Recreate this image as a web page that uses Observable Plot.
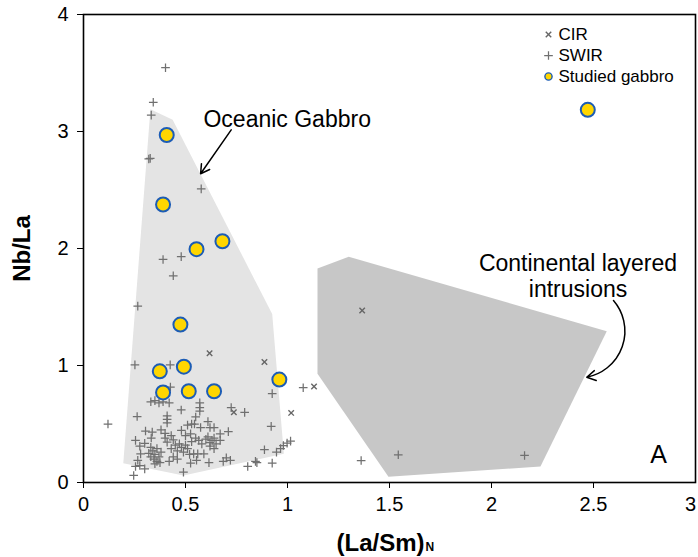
<!DOCTYPE html>
<html><head><meta charset="utf-8">
<script src="https://cdn.jsdelivr.net/npm/d3@7"></script>
<script src="https://cdn.jsdelivr.net/npm/@observablehq/plot@0.6"></script>
<style>body{margin:0;background:#fff}</style>
</head><body><div id="chart"></div>
<script>
const xTicks = [0, 0.5, 1, 1.5, 2, 2.5, 3];
const yTicks = [0, 1, 2, 3, 4];

// Studied gabbro [ (La/Sm)N, Nb/La ]
const gabbro = [
  [0.408, 2.97], [0.39, 2.376], [0.554, 1.994], [0.681, 2.062], [0.475, 1.35],
  [0.374, 0.95], [0.492, 0.99], [0.39, 0.77], [0.516, 0.78], [0.64, 0.78],
  [0.96, 0.88], [2.472, 3.185]
];

// CIR samples
const cir = [
  [0.618, 1.105], [0.887, 1.03], [0.737, 0.60], [1.018, 0.595], [1.13, 0.82], [1.366, 1.47]
];

// SWIR samples
const swir = [
  [0.402, 3.545], [0.342, 3.25], [0.332, 3.14], [0.32, 2.765], [0.327, 2.77], [0.577, 2.51],
  [0.39, 1.906], [0.479, 1.93], [0.44, 1.767], [0.266, 1.507],
  [0.252, 1.005], [0.425, 1.005], [0.426, 0.815], [0.925, 0.76], [1.077, 0.81],
  [0.12, 0.50], [0.263, 0.564], [0.33, 0.69], [0.35, 0.70], [0.37, 0.68], [0.39, 0.69], [0.42, 0.68],
  [0.479, 0.62], [0.57, 0.68], [0.57, 0.64], [0.57, 0.61], [0.724, 0.64], [0.79, 0.60], [0.92, 0.48],
  [0.41, 0.57], [0.41, 0.54], [0.41, 0.51], [0.55, 0.56], [0.61, 0.52], [0.544, 0.50], [0.574, 0.47],
  [0.62, 0.47], [0.64, 0.47], [0.67, 0.415], [0.71, 0.435],
  [0.304, 0.44], [0.337, 0.43], [0.332, 0.38], [0.38, 0.45], [0.40, 0.42], [0.43, 0.40], [0.40, 0.38],
  [0.44, 0.365], [0.41, 0.345], [0.48, 0.445], [0.51, 0.49], [0.53, 0.50], [0.50, 0.40], [0.525, 0.415],
  [0.53, 0.35], [0.55, 0.38], [0.565, 0.36], [0.58, 0.33], [0.60, 0.37], [0.61, 0.39], [0.62, 0.34],
  [0.63, 0.36], [0.64, 0.38], [0.65, 0.33], [0.62, 0.31], [0.64, 0.29], [0.67, 0.36],
  [0.255, 0.36], [0.276, 0.31], [0.28, 0.245], [0.266, 0.19], [0.30, 0.335],
  [0.32, 0.25], [0.33, 0.22], [0.34, 0.27], [0.345, 0.20], [0.35, 0.24], [0.36, 0.18], [0.37, 0.22],
  [0.38, 0.26], [0.375, 0.17], [0.36, 0.29], [0.33, 0.30], [0.35, 0.16],
  [0.43, 0.29], [0.45, 0.32], [0.46, 0.27], [0.47, 0.33], [0.48, 0.30], [0.50, 0.32], [0.44, 0.22],
  [0.42, 0.18], [0.46, 0.20], [0.49, 0.26], [0.51, 0.29], [0.52, 0.24],
  [0.255, 0.137], [0.276, 0.145], [0.30, 0.117], [0.246, 0.06], [0.49, 0.088], [0.525, 0.165],
  [0.554, 0.19], [0.56, 0.245], [0.54, 0.245], [0.59, 0.245], [0.615, 0.17],
  [0.685, 0.18], [0.70, 0.21], [0.72, 0.19], [0.805, 0.137], [0.843, 0.18], [0.85, 0.17], [0.925, 0.165],
  [0.887, 0.28], [0.946, 0.26], [0.966, 0.29], [0.98, 0.316], [0.998, 0.336], [1.015, 0.353],
  [1.361, 0.188], [1.543, 0.237], [2.162, 0.231]
];

// Field outlines
const oceanicGabbro = [[0.328, 3.19], [0.437, 3.10], [0.925, 1.44], [0.982, 0.245], [0.49, 0.06], [0.195, 0.165]];
const continentalIntrusions = [[1.147, 1.83], [1.30, 1.93], [2.565, 1.293], [2.24, 0.137], [1.495, 0.05], [1.147, 0.93]];

// Annotations
const oceanicLabel = [{label: "Oceanic Gabbro", x: 0.588, y: 3.10}];
const continentalLabel = [{label: "Continental layered\nintrusions", x: 2.424, y: 1.765}];
const straightArrow = [{x1: 0.724, y1: 3.014, x2: 0.574, y2: 2.639}];
const curvedArrow = [{x1: 2.598, y1: 1.556, x2: 2.467, y2: 0.90}];

const legendLabels = ["CIR", "SWIR", "Studied gabbro"];
const panelLetter = ["A"];

const font = "'Liberation Sans', Arial, sans-serif";
const plusColor = "#707070";
const timesColor = "#666666";
const gabbroFill = "#ffd600";
const gabbroStroke = "#1c5cb5";
const tickFmt = d => `${d}`;

const chart = Plot.plot({
  width: 698,
  height: 557,
  marginLeft: 83,
  marginRight: 3,
  marginTop: 14,
  marginBottom: 75,
  style: {fontFamily: font, fontSize: "20px", color: "black", background: "white"},
  x: {domain: [0, 3], label: null},
  y: {domain: [0, 4], label: null},
  marks: [
    Plot.line(oceanicGabbro, {x: d => d[0], y: d => d[1], fill: "#e4e4e4", stroke: "none"}),
    Plot.line(continentalIntrusions, {x: d => d[0], y: d => d[1], fill: "#c7c7c7", stroke: "none"}),
    Plot.axisX(xTicks.slice(0, -1), {tickFormat: tickFmt, tickSize: 6, tickPadding: 8, label: null}),
    Plot.axisX(xTicks.slice(-1), {tickFormat: tickFmt, tickSize: 0, tickPadding: 14, dx: -5, label: null}),
    Plot.axisY(yTicks, {tickFormat: tickFmt, tickSize: 6, tickPadding: 9, label: null}),
    Plot.frame({stroke: "black", strokeWidth: 1.6}),
    Plot.dot(swir, {x: d => d[0], y: d => d[1], symbol: "plus", r: 2.9, stroke: plusColor, strokeWidth: 1.25}),
    Plot.dot(cir, {x: d => d[0], y: d => d[1], symbol: "times", r: 2.6, stroke: timesColor, strokeWidth: 1.4}),
    Plot.dot(gabbro, {x: d => d[0], y: d => d[1], r: 7, fill: gabbroFill, stroke: gabbroStroke, strokeWidth: 2}),
    Plot.text(oceanicLabel, {x: "x", y: "y", text: "label", textAnchor: "start", fontSize: 23, fill: "black"}),
    Plot.text(continentalLabel, {x: "x", y: "y", text: "label", textAnchor: "middle", fontSize: 23, lineHeight: 1.1, fill: "black"}),
    Plot.arrow(straightArrow, {x1: "x1", y1: "y1", x2: "x2", y2: "y2", stroke: "black", strokeWidth: 1.5, headLength: 10}),
    Plot.arrow(curvedArrow, {x1: "x1", y1: "y1", x2: "x2", y2: "y2", bend: 60, stroke: "black", strokeWidth: 1.5, headLength: 10}),
    // legend
    Plot.dot([legendLabels[0]], {frameAnchor: "top-right", dx: -147, dy: 20, symbol: "times", r: 2.6, stroke: timesColor, strokeWidth: 1.4}),
    Plot.dot([legendLabels[1]], {frameAnchor: "top-right", dx: -147, dy: 41, symbol: "plus", r: 2.9, stroke: plusColor, strokeWidth: 1.25}),
    Plot.dot([legendLabels[2]], {frameAnchor: "top-right", dx: -147, dy: 62, r: 3.6, fill: gabbroFill, stroke: gabbroStroke, strokeWidth: 1.4}),
    Plot.text([legendLabels[0]], {frameAnchor: "top-right", dx: -137, dy: 20, textAnchor: "start", lineAnchor: "middle", fontSize: 17}),
    Plot.text([legendLabels[1]], {frameAnchor: "top-right", dx: -137, dy: 41, textAnchor: "start", lineAnchor: "middle", fontSize: 17}),
    Plot.text([legendLabels[2]], {frameAnchor: "top-right", dx: -137, dy: 62, textAnchor: "start", lineAnchor: "middle", fontSize: 17}),
    // panel letter
    Plot.text(panelLetter, {frameAnchor: "bottom-right", dx: -37, dy: -28, textAnchor: "middle", lineAnchor: "middle", fontSize: 25}),
    // axis titles
    Plot.text(["Nb/La"], {frameAnchor: "left", dx: -61, rotate: -90, textAnchor: "middle", lineAnchor: "middle", fontSize: 24, fontWeight: "bold"}),
    Plot.text(["(La/Sm)"], {frameAnchor: "bottom", dx: 35, dy: 68, textAnchor: "end", lineAnchor: "bottom", fontSize: 24, fontWeight: "bold"}),
    Plot.text(["N"], {frameAnchor: "bottom", dx: 36, dy: 68, textAnchor: "start", lineAnchor: "bottom", fontSize: 12, fontWeight: "bold"})
  ]
});
document.getElementById("chart").appendChild(chart);
</script>
</body></html>
